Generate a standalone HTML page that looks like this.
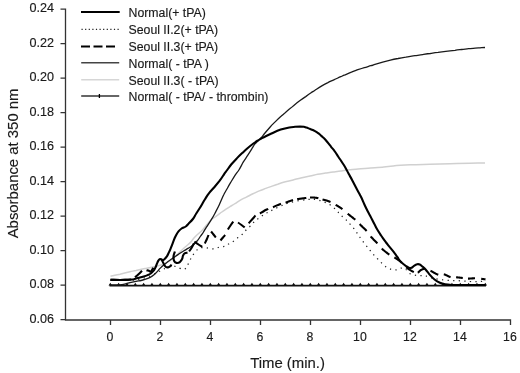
<!DOCTYPE html>
<html><head><meta charset="utf-8">
<style>
html,body{margin:0;padding:0;background:#fff;}
body{width:520px;height:373px;overflow:hidden;}
svg{display:block;will-change:transform;}
text{font-family:"Liberation Sans",sans-serif;fill:#1a1a1a;stroke:#1a1a1a;stroke-width:0.15px;}
</style></head>
<body>
<svg width="520" height="373" viewBox="0 0 520 373">
<rect width="520" height="373" fill="#fff"/>
<!-- axes -->
<g stroke="#333" stroke-width="1.3" fill="none">
<path d="M60.5 9.2H65.5V320H510.5V325"/>
<path d="M60.5 43.7H65.5M60.5 78.2H65.5M60.5 112.7H65.5M60.5 147.2H65.5M60.5 181.7H65.5M60.5 216.2H65.5M60.5 250.7H65.5M60.5 285.2H65.5M60.5 319.7H65.5"/>
<path d="M110.5 320V325M160.5 320V325M210.5 320V325M260.5 320V325M310.5 320V325M360.5 320V325M410.5 320V325M460.5 320V325"/>
</g>
<g font-size="12.6" text-anchor="end">
<text x="54" y="12.2">0.24</text>
<text x="54" y="46.7">0.22</text>
<text x="54" y="81.2">0.20</text>
<text x="54" y="115.7">0.18</text>
<text x="54" y="150.2">0.16</text>
<text x="54" y="184.7">0.14</text>
<text x="54" y="219.2">0.12</text>
<text x="54" y="253.7">0.10</text>
<text x="54" y="288.2">0.08</text>
<text x="54" y="322.7">0.06</text>
</g>
<g font-size="12.3" text-anchor="middle">
<text transform="translate(109.9 340.9) scale(1 1.07)">0</text>
<text transform="translate(159.9 340.9) scale(1 1.07)">2</text>
<text transform="translate(209.9 340.9) scale(1 1.07)">4</text>
<text transform="translate(259.9 340.9) scale(1 1.07)">6</text>
<text transform="translate(309.9 340.9) scale(1 1.07)">8</text>
<text transform="translate(359.9 340.9) scale(1 1.07)">10</text>
<text transform="translate(409.9 340.9) scale(1 1.07)">12</text>
<text transform="translate(459.9 340.9) scale(1 1.07)">14</text>
<text transform="translate(509.9 340.9) scale(1 1.07)">16</text>
</g>
<text x="287.5" y="368" font-size="14.9" text-anchor="middle">Time (min.)</text>
<text transform="translate(17.5 163.4) rotate(-90)" font-size="14.9" text-anchor="middle">Absorbance at 350 nm</text>
<!-- legend -->
<g font-size="12.3">
<text x="128.5" y="16.5">Normal(+ tPA)</text>
<text x="128.5" y="33.8">Seoul II.2(+ tPA)</text>
<text x="128.5" y="51">Seoul II.3(+ tPA)</text>
<text x="128.5" y="67.5">Normal( - tPA )</text>
<text x="128.5" y="84.5">Seoul II.3( - tPA)</text>
<text x="128.5" y="100.5">Normal( - tPA/ - thrombin)</text>
</g>
<g fill="none">
<path d="M81 12.1H119.7" stroke="#000" stroke-width="2"/>
<path d="M81.5 29.4H119.5" stroke="#222" stroke-width="1.2" stroke-dasharray="1.2 2.4"/>
<path d="M81 46.6H115.5" stroke="#000" stroke-width="2" stroke-dasharray="9 3.5"/>
<path d="M81.2 62.8H119.2" stroke="#444" stroke-width="1.6"/>
<path d="M81.2 79.8H119.2" stroke="#d6d6d6" stroke-width="1.6"/>
<path d="M81.2 96H119.2" stroke="#333" stroke-width="1.6"/>
<path d="M99.4 94V98" stroke="#000" stroke-width="1.3"/>
</g>
<!-- curves -->
<g fill="none" stroke-linejoin="round">
<path d="M110.5 276.3C112.1 275.9 116.8 274.9 120.0 274.2C123.2 273.4 127.3 272.4 130.0 271.8C132.7 271.2 133.5 270.9 136.0 270.4C138.5 269.8 141.8 269.1 145.0 268.5C148.2 267.9 151.7 267.3 155.0 266.5C158.3 265.7 162.2 264.7 165.0 263.5C167.8 262.3 169.8 261.1 172.0 259.5C174.2 257.9 176.0 255.9 178.0 254.0C180.0 252.1 181.9 249.9 184.0 248.0C186.1 246.1 188.9 244.0 190.5 242.4C192.1 240.8 192.5 239.7 193.7 238.3C194.9 237.0 196.2 235.7 197.7 234.3C199.2 232.9 201.1 231.4 202.5 229.9C203.9 228.4 205.1 226.8 206.4 225.2C207.7 223.6 209.1 221.9 210.5 220.5C211.9 219.1 213.4 218.2 215.0 217.0C216.6 215.8 218.3 214.5 220.0 213.3C221.7 212.1 223.3 210.9 225.0 209.8C226.7 208.7 228.3 207.6 230.0 206.6C231.7 205.6 233.3 204.6 235.0 203.6C236.7 202.6 238.1 201.4 240.0 200.3C241.9 199.2 244.2 198.2 246.4 197.1C248.6 196.0 250.8 194.8 252.9 193.8C255.1 192.8 257.2 191.8 259.3 190.9C261.4 190.0 264.0 189.1 265.8 188.4C267.6 187.7 268.0 187.6 270.0 186.9C272.0 186.2 275.1 185.0 277.7 184.2C280.3 183.3 282.8 182.5 285.4 181.8C288.0 181.1 290.5 180.5 293.1 179.9C295.7 179.3 298.0 178.6 300.8 178.0C303.6 177.4 307.2 176.7 310.0 176.1C312.8 175.5 315.1 174.8 317.7 174.3C320.3 173.8 322.8 173.5 325.4 173.1C328.0 172.7 330.5 172.2 333.1 171.9C335.7 171.6 338.6 171.3 340.8 171.0C343.0 170.7 343.7 170.6 346.2 170.3C348.7 170.0 352.4 169.5 356.0 169.2C359.6 168.9 363.4 168.7 368.0 168.3C372.6 167.9 379.6 167.4 383.8 167.0C388.0 166.6 388.7 166.3 393.1 165.9C397.5 165.5 404.2 165.1 410.4 164.8C416.5 164.5 423.4 164.4 430.0 164.2C436.6 164.0 443.3 163.9 450.0 163.7C456.7 163.5 464.2 163.3 470.0 163.2C475.8 163.1 482.5 162.9 485.0 162.9" stroke="#d0d0d0" stroke-width="1.5"/>
<path d="M109.5 285.6H486" stroke="#111" stroke-width="1.6"/>
<path d="M108.50 285.6l1.8 -2.8l1.8 2.8zM116.83 285.6l1.8 -2.8l1.8 2.8zM125.17 285.6l1.8 -2.8l1.8 2.8zM133.50 285.6l1.8 -2.8l1.8 2.8zM141.83 285.6l1.8 -2.8l1.8 2.8zM150.16 285.6l1.8 -2.8l1.8 2.8zM158.50 285.6l1.8 -2.8l1.8 2.8zM166.83 285.6l1.8 -2.8l1.8 2.8zM175.16 285.6l1.8 -2.8l1.8 2.8zM183.50 285.6l1.8 -2.8l1.8 2.8zM191.83 285.6l1.8 -2.8l1.8 2.8zM200.16 285.6l1.8 -2.8l1.8 2.8zM208.50 285.6l1.8 -2.8l1.8 2.8zM216.83 285.6l1.8 -2.8l1.8 2.8zM225.16 285.6l1.8 -2.8l1.8 2.8zM233.50 285.6l1.8 -2.8l1.8 2.8zM241.83 285.6l1.8 -2.8l1.8 2.8zM250.16 285.6l1.8 -2.8l1.8 2.8zM258.49 285.6l1.8 -2.8l1.8 2.8zM266.83 285.6l1.8 -2.8l1.8 2.8zM275.16 285.6l1.8 -2.8l1.8 2.8zM283.49 285.6l1.8 -2.8l1.8 2.8zM291.83 285.6l1.8 -2.8l1.8 2.8zM300.16 285.6l1.8 -2.8l1.8 2.8zM308.49 285.6l1.8 -2.8l1.8 2.8zM316.83 285.6l1.8 -2.8l1.8 2.8zM325.16 285.6l1.8 -2.8l1.8 2.8zM333.49 285.6l1.8 -2.8l1.8 2.8zM341.82 285.6l1.8 -2.8l1.8 2.8zM350.16 285.6l1.8 -2.8l1.8 2.8zM358.49 285.6l1.8 -2.8l1.8 2.8zM366.82 285.6l1.8 -2.8l1.8 2.8zM375.16 285.6l1.8 -2.8l1.8 2.8zM383.49 285.6l1.8 -2.8l1.8 2.8zM391.82 285.6l1.8 -2.8l1.8 2.8zM400.16 285.6l1.8 -2.8l1.8 2.8zM408.49 285.6l1.8 -2.8l1.8 2.8zM416.82 285.6l1.8 -2.8l1.8 2.8zM425.15 285.6l1.8 -2.8l1.8 2.8zM433.49 285.6l1.8 -2.8l1.8 2.8zM441.82 285.6l1.8 -2.8l1.8 2.8zM450.15 285.6l1.8 -2.8l1.8 2.8zM458.49 285.6l1.8 -2.8l1.8 2.8zM466.82 285.6l1.8 -2.8l1.8 2.8zM475.15 285.6l1.8 -2.8l1.8 2.8zM483.49 285.6l1.8 -2.8l1.8 2.8z" fill="#111" stroke="none"/>
<path d="M110.5 285.0C112.4 284.9 118.8 285.0 122.0 284.6C125.2 284.2 127.7 283.2 130.0 282.6C132.3 282.1 134.2 281.7 136.0 281.3C137.8 280.9 139.5 280.9 141.1 280.5C142.7 280.1 144.2 279.7 145.7 279.2C147.2 278.7 148.8 278.0 150.2 277.3C151.6 276.6 152.8 275.8 154.0 274.8C155.2 273.9 156.2 272.7 157.2 271.6C158.2 270.5 158.9 269.5 160.0 268.4C161.1 267.3 162.7 265.9 164.0 264.8C165.3 263.7 166.7 262.5 168.0 261.5C169.3 260.5 170.7 259.6 172.0 258.7C173.3 257.8 174.7 256.9 176.0 256.0C177.3 255.1 178.7 254.2 180.0 253.3C181.3 252.4 182.7 251.6 184.0 250.8C185.3 250.0 186.8 249.2 188.0 248.4C189.2 247.6 190.4 247.0 191.5 246.2C192.6 245.4 193.5 244.8 194.5 243.8C195.5 242.9 196.5 241.7 197.5 240.5C198.5 239.3 199.4 237.8 200.3 236.5C201.2 235.2 202.2 234.1 203.2 232.5C204.2 230.9 205.2 229.2 206.4 227.2C207.7 225.2 209.3 223.0 210.7 220.7C212.1 218.4 213.6 215.9 215.0 213.2C216.4 210.5 217.9 207.7 219.3 204.7C220.7 201.7 222.3 197.6 223.6 195.0C224.8 192.4 225.7 191.3 226.8 189.3C227.9 187.3 229.0 185.2 230.4 182.9C231.8 180.6 233.6 177.6 235.0 175.4C236.4 173.2 237.5 172.2 238.9 170.0C240.3 167.8 241.8 164.6 243.2 162.2C244.6 159.8 246.1 157.9 247.5 155.7C248.9 153.5 250.6 150.8 251.8 148.8C253.1 146.8 253.9 145.2 255.0 143.9C256.1 142.6 257.1 141.8 258.2 140.7C259.3 139.6 260.4 138.6 261.5 137.3C262.6 136.0 263.5 134.8 265.0 133.0C266.5 131.2 268.8 128.5 270.4 126.7C272.0 124.9 273.1 123.9 274.9 122.1C276.7 120.3 279.6 117.5 281.3 116.0C283.0 114.4 283.4 114.1 284.9 112.9C286.3 111.7 288.3 110.0 290.0 108.6C291.7 107.1 293.6 105.6 295.3 104.2C297.0 102.8 298.7 101.6 300.4 100.3C302.1 99.0 303.9 97.8 305.7 96.6C307.5 95.3 309.6 93.8 311.1 92.8C312.7 91.7 313.3 91.4 315.0 90.2C316.7 89.1 319.2 87.4 321.4 86.1C323.5 84.8 325.8 83.6 327.9 82.6C330.0 81.5 332.1 80.7 334.3 79.7C336.5 78.7 339.0 77.5 340.8 76.7C342.6 75.9 343.2 75.6 345.0 74.9C346.8 74.1 349.2 73.0 351.4 72.2C353.5 71.3 355.8 70.5 357.9 69.7C360.0 69.0 362.1 68.3 364.3 67.6C366.5 67.0 369.0 66.2 370.8 65.7C372.6 65.2 373.0 65.0 375.0 64.4C377.0 63.9 380.1 63.0 382.7 62.2C385.3 61.5 387.8 60.8 390.4 60.1C393.0 59.5 395.5 59.0 398.1 58.5C400.7 57.9 403.0 57.5 405.8 57.1C408.6 56.6 412.2 56.2 415.0 55.7C417.8 55.3 420.1 55.0 422.7 54.6C425.3 54.2 427.8 53.8 430.4 53.5C433.0 53.1 435.5 52.7 438.1 52.4C440.7 52.0 443.0 51.7 445.8 51.4C448.6 51.1 452.4 50.7 455.0 50.4C457.6 50.0 459.4 49.8 461.7 49.5C463.9 49.2 466.2 49.0 468.5 48.7C470.8 48.5 473.3 48.3 475.2 48.1C477.1 48.0 478.4 47.9 480.0 47.8C481.6 47.7 484.2 47.5 485.0 47.5" stroke="#1a1a1a" stroke-width="1.3"/>
<path d="M110.5 280.0C113.8 280.0 125.1 280.2 130.0 280.0C134.9 279.8 136.7 279.7 140.0 279.0C143.3 278.3 147.0 277.2 150.0 276.0C153.0 274.8 155.5 273.2 158.0 272.0C160.5 270.8 162.7 269.5 165.0 268.5C167.3 267.5 170.0 266.2 172.0 266.0C174.0 265.8 175.3 266.5 177.2 267.1C179.0 267.7 181.5 269.5 183.1 269.5C184.7 269.5 185.9 268.2 186.8 267.2C187.7 266.2 187.7 264.9 188.4 263.4C189.1 261.9 190.2 259.7 191.1 258.1C192.0 256.5 192.7 255.2 193.8 253.8C194.9 252.4 196.3 250.5 197.5 249.5C198.7 248.5 199.7 248.1 201.0 247.8C202.3 247.5 203.8 247.5 205.1 247.6C206.4 247.7 207.5 248.1 209.1 248.3C210.7 248.5 212.7 249.1 214.5 248.9C216.3 248.7 218.1 247.4 219.9 246.9C221.7 246.4 223.6 246.8 225.2 246.2C226.8 245.6 227.8 244.4 229.2 243.6C230.6 242.8 231.9 242.2 233.4 241.2C234.9 240.2 236.4 238.8 238.0 237.6C239.6 236.4 241.2 235.3 242.7 233.9C244.2 232.5 245.4 230.6 246.8 229.2C248.2 227.8 250.1 226.5 251.4 225.2C252.7 223.8 253.5 222.3 254.8 221.1C256.2 219.9 257.9 218.9 259.5 217.8C261.1 216.7 262.6 215.4 264.2 214.4C265.8 213.4 267.2 212.7 268.9 211.8C270.6 210.9 272.0 210.2 274.2 209.1C276.4 208.0 279.4 206.6 282.0 205.5C284.6 204.4 287.0 203.3 290.0 202.5C293.0 201.7 297.0 201.0 300.0 200.5C303.0 200.0 305.8 199.7 308.0 199.5C310.2 199.3 311.2 199.1 313.0 199.2C314.8 199.3 316.9 199.7 318.8 200.2C320.7 200.7 322.7 201.3 324.6 202.1C326.5 202.9 328.4 203.6 330.4 205.0C332.4 206.4 334.7 208.7 336.4 210.3C338.1 211.9 338.9 213.4 340.4 214.8C341.9 216.2 343.8 217.6 345.3 219.0C346.8 220.4 348.0 221.9 349.3 223.3C350.6 224.8 352.1 226.2 353.3 227.7C354.5 229.2 355.4 230.6 356.5 232.2C357.6 233.8 358.6 235.4 359.7 237.0C360.8 238.6 361.8 239.9 363.0 241.5C364.2 243.1 365.8 245.1 367.0 246.6C368.2 248.1 369.0 249.0 370.2 250.5C371.4 252.0 373.0 254.0 374.3 255.5C375.6 257.0 376.7 257.9 378.0 259.3C379.3 260.7 380.8 262.2 382.3 263.6C383.8 265.0 385.6 266.7 387.2 267.7C388.8 268.7 390.4 269.1 392.0 269.5C393.6 269.9 395.3 270.0 396.8 269.8C398.3 269.6 399.7 268.2 401.1 268.1C402.5 268.0 404.1 268.1 405.4 269.0C406.7 269.9 407.6 272.2 409.1 273.2C410.6 274.2 412.7 274.7 414.5 275.1C416.3 275.5 418.2 275.4 420.0 275.5C421.8 275.6 423.2 275.4 425.2 275.8C427.2 276.2 429.5 277.4 432.0 278.0C434.5 278.6 437.0 279.1 440.0 279.5C443.0 279.9 446.7 280.3 450.0 280.5C453.3 280.7 456.7 280.6 460.0 280.8C463.3 281.0 467.0 281.4 470.0 281.5C473.0 281.6 475.4 281.6 478.0 281.5C480.6 281.4 484.2 281.1 485.5 281.0" stroke="#222" stroke-width="1.25" stroke-dasharray="1.25 4.3"/>
<path d="M285.60 202.70L285.71 202.66L285.82 202.63L285.92 202.59L286.02 202.56L286.11 202.53L286.20 202.50L286.28 202.47L286.36 202.43L286.43 202.40L286.50 202.37L286.57 202.34L286.64 202.31L286.71 202.28L286.77 202.25L286.84 202.22L286.90 202.19L286.97 202.16L287.04 202.13L287.10 202.10L287.17 202.07L287.25 202.04L287.32 202.00L287.40 201.97L287.49 201.94L287.57 201.90L287.67 201.86L287.77 201.82L287.87 201.78L287.98 201.74L288.10 201.70L288.22 201.66L288.35 201.61L288.49 201.56L288.63 201.51L288.78 201.46L288.92 201.41L289.08 201.35L289.23 201.30L289.39 201.24L289.56 201.19L289.72 201.13L289.89 201.07L290.06 201.01L290.23 200.95L290.40 200.89L290.57 200.84L290.75 200.78L290.92 200.72L291.09 200.66L291.27 200.60L291.44 200.55L291.61 200.49L291.78 200.44L291.95 200.38L292.11 200.33L292.28 200.28L292.44 200.23L292.60 200.19L292.75 200.14L292.90 200.10L293.05 200.06M297.18 199.17L297.36 199.14L297.55 199.11L297.75 199.08L297.94 199.05L298.15 199.02L298.35 198.99L298.56 198.96L298.77 198.93L298.99 198.90L299.21 198.87L299.43 198.84L299.65 198.80L299.87 198.77L300.10 198.74L300.33 198.71L300.56 198.68L300.78 198.65L301.01 198.62L301.24 198.59L301.47 198.56L301.70 198.53L301.93 198.50L302.16 198.47L302.39 198.44L302.61 198.41L302.84 198.39L303.06 198.36L303.28 198.33L303.50 198.30L303.72 198.27L303.93 198.24L304.15 198.21L304.36 198.18L304.58 198.15L304.79 198.11L305.01 198.08L305.22 198.05L305.44 198.01L305.65 197.98L305.87 197.95L306.08 197.92L306.30 197.88M310.00 197.50L310.22 197.49L310.45 197.49L310.68 197.49L310.91 197.48L311.14 197.48L311.37 197.48L311.61 197.49L311.84 197.49L312.08 197.49L312.31 197.50L312.55 197.51L312.78 197.52L313.02 197.53L313.26 197.54L313.49 197.55L313.73 197.56L313.97 197.58L314.20 197.60L314.43 197.61L314.67 197.63L314.90 197.65L315.13 197.68L315.36 197.70L315.58 197.72L315.81 197.75L316.03 197.78L316.25 197.81L316.47 197.84L316.69 197.87L316.90 197.90L317.11 197.93L317.32 197.97L317.52 198.01L317.73 198.05L317.93 198.10L318.13 198.14L318.33 198.19M322.51 199.44L322.70 199.50L322.89 199.55L323.09 199.61L323.28 199.66L323.47 199.71L323.67 199.76L323.86 199.82L324.06 199.87L324.25 199.92L324.44 199.97L324.64 200.02L324.83 200.07L325.02 200.12L325.22 200.17L325.41 200.22L325.61 200.27L325.80 200.33L325.99 200.38L326.19 200.44L326.38 200.49L326.57 200.55L326.77 200.61L326.96 200.67L327.15 200.73L327.35 200.79L327.54 200.85L327.73 200.92L327.92 200.98L328.12 201.05L328.31 201.13L328.50 201.20L328.69 201.28L328.88 201.35L329.06 201.43L329.25 201.50L329.43 201.58L329.61 201.66L329.79 201.74L329.97 201.82L330.15 201.90L330.33 201.98L330.51 202.06M335.66 204.83L335.92 204.98L336.18 205.13L336.45 205.29L336.72 205.45L336.99 205.61L337.27 205.77L337.55 205.94L337.82 206.10L338.10 206.27L338.38 206.44L338.65 206.61L338.93 206.78L339.21 206.95L339.48 207.12L339.75 207.29L340.02 207.46L340.28 207.63L340.54 207.80L340.80 207.97L341.05 208.14L341.30 208.31L341.54 208.47L341.77 208.64L342.00 208.80L342.22 208.96L342.44 209.12M347.70 213.70L347.93 213.89L348.17 214.09L348.42 214.29L348.68 214.50L348.95 214.71L349.22 214.92L349.49 215.14L349.77 215.36L350.06 215.59L350.34 215.81L350.63 216.04L350.93 216.27L351.22 216.50L351.51 216.73L351.81 216.96L352.10 217.19L352.39 217.41L352.68 217.64L352.96 217.87L353.24 218.09L353.52 218.31L353.79 218.53L354.06 218.74L354.32 218.95L354.57 219.15L354.82 219.36L355.05 219.55L355.28 219.74M359.70 224.10L359.89 224.29L360.10 224.50L360.31 224.71L360.54 224.93L360.77 225.16L361.01 225.39L361.26 225.63L361.52 225.88L361.78 226.13L362.04 226.39L362.31 226.65L362.58 226.91L362.85 227.18L363.13 227.44L363.40 227.71L363.67 227.98L363.95 228.25L364.22 228.52L364.48 228.78L364.75 229.04L365.01 229.30L365.26 229.56L365.51 229.81L365.75 230.06L365.98 230.30L366.21 230.54L366.42 230.76L366.63 230.98M370.57 236.42L370.77 236.64L370.98 236.86L371.20 237.10L371.43 237.34L371.66 237.58L371.91 237.83L372.15 238.08L372.41 238.34L372.67 238.60L372.93 238.86L373.19 239.13L373.46 239.40L373.72 239.66L373.99 239.93L374.26 240.20L374.53 240.46L374.80 240.73L375.06 240.99L375.32 241.25L375.58 241.51L375.83 241.77L376.08 242.02L376.32 242.26L376.55 242.50L376.78 242.74L376.99 242.96L377.20 243.19L377.40 243.40M381.80 248.60L382.01 248.80L382.24 249.00L382.47 249.21L382.71 249.42L382.96 249.64L383.22 249.87L383.49 250.09L383.76 250.32L384.04 250.56L384.33 250.79L384.61 251.03L384.90 251.27L385.20 251.50L385.49 251.74L385.79 251.98L386.08 252.21L386.38 252.44L386.67 252.67L386.96 252.90L387.25 253.12L387.54 253.34L387.82 253.55L388.09 253.76L388.36 253.96L388.62 254.15L388.88 254.34L389.12 254.52L389.36 254.69M394.40 257.40L394.59 257.52L394.79 257.65L394.99 257.77L395.20 257.91L395.41 258.04L395.63 258.18L395.85 258.33L396.07 258.47L396.30 258.62L396.53 258.77L396.76 258.93L397.00 259.09L397.23 259.24L397.47 259.41L397.71 259.57L397.94 259.73L398.18 259.90L398.42 260.07L398.66 260.23L398.89 260.40L399.13 260.57L399.36 260.74L399.59 260.91L399.82 261.08L400.04 261.26L400.26 261.43L400.48 261.60L400.69 261.76L400.90 261.93L401.10 262.10L401.30 262.27L401.49 262.44L401.68 262.61M406.19 267.23L406.40 267.40L406.62 267.57L406.84 267.74L407.07 267.91L407.31 268.09L407.55 268.27L407.80 268.45L408.05 268.63L408.31 268.81L408.57 268.99L408.84 269.17L409.10 269.35L409.37 269.53L409.64 269.71L409.91 269.88L410.18 270.06L410.45 270.23L410.72 270.39L410.98 270.56L411.25 270.72L411.51 270.87L411.76 271.02L412.02 271.17L412.26 271.31L412.50 271.44L412.74 271.57L412.97 271.69L413.19 271.81L413.40 271.91L413.61 272.01L413.80 272.10M417.68 272.53L417.80 272.50L417.92 272.46L418.03 272.41L418.15 272.36L418.26 272.30L418.37 272.24L418.48 272.16L418.58 272.09L418.68 272.01L418.79 271.92L418.89 271.83L418.99 271.74L419.09 271.65L419.19 271.55L419.29 271.45L419.39 271.35L419.49 271.25L419.59 271.15L419.69 271.05L419.79 270.94L419.89 270.84L419.99 270.75L420.10 270.65L420.20 270.55L420.31 270.46L420.42 270.38L420.53 270.29L420.64 270.21L420.76 270.13L420.88 270.06L421.00 270.00L421.12 269.94L421.25 269.88L421.37 269.81L421.50 269.75L421.63 269.69L421.76 269.63L421.89 269.56L422.02 269.50L422.15 269.44L422.29 269.39L422.42 269.33L422.56 269.27L422.69 269.22L422.83 269.17L422.97 269.12L423.11 269.07L423.25 269.03L423.39 268.99L423.54 268.95L423.68 268.91L423.83 268.88L423.98 268.86L424.12 268.83L424.27 268.81L424.42 268.80L424.58 268.79L424.73 268.78L424.89 268.78M430.50 270.80L430.73 270.90L430.96 271.02L431.20 271.14L431.45 271.27L431.71 271.40L431.97 271.54L432.24 271.69L432.51 271.84L432.79 271.99L433.07 272.15L433.35 272.31L433.64 272.47L433.92 272.63L434.21 272.80L434.50 272.96L434.79 273.12L435.08 273.27L435.36 273.43L435.65 273.58L435.93 273.73L436.21 273.87L436.49 274.00L436.76 274.13L437.03 274.26L437.29 274.37L437.55 274.48L437.80 274.57L438.04 274.66L438.27 274.74M443.80 274.30L444.00 274.34L444.21 274.40L444.42 274.46L444.64 274.53L444.86 274.61L445.08 274.69L445.31 274.78L445.53 274.88L445.76 274.98L446.00 275.09L446.23 275.19L446.46 275.31L446.70 275.42L446.94 275.54L447.18 275.66L447.41 275.77L447.65 275.89L447.89 276.01L448.12 276.12L448.36 276.24L448.59 276.35L448.83 276.45L449.06 276.56L449.29 276.65L449.51 276.75L449.74 276.83L449.96 276.91L450.18 276.98L450.39 277.05L450.60 277.10M456.10 277.29L456.30 277.30L456.51 277.32L456.72 277.33L456.94 277.35L457.16 277.37L457.38 277.39L457.60 277.41L457.83 277.43L458.06 277.45L458.29 277.48L458.52 277.50L458.76 277.52L458.99 277.55L459.22 277.57L459.46 277.60L459.69 277.62L459.93 277.65L460.16 277.68L460.39 277.70L460.63 277.73L460.86 277.76L461.08 277.78L461.31 277.81L461.53 277.83L461.75 277.86L461.97 277.88L462.18 277.91L462.39 277.93L462.60 277.96L462.80 277.98M468.00 278.60L468.20 278.60L468.41 278.60L468.62 278.60L468.84 278.60L469.06 278.59L469.28 278.58L469.51 278.58L469.74 278.56L469.98 278.55L470.21 278.54L470.45 278.52L470.69 278.51L470.94 278.49L471.18 278.47L471.43 278.46L471.67 278.44L471.92 278.42L472.16 278.41L472.41 278.39L472.65 278.37L472.90 278.36L473.14 278.35L473.38 278.33L473.62 278.32L473.86 278.31L474.09 278.31L474.32 278.30L474.55 278.30L474.78 278.30L475.00 278.30M481.20 278.80L481.38 278.82L481.55 278.84L481.73 278.86L481.90 278.88L482.08 278.90L482.25 278.92L482.42 278.95L482.60 278.97L482.77 278.99L482.93 279.01L483.10 279.04L483.26 279.06L483.42 279.08L483.58 279.11L483.74 279.13L483.89 279.15L484.04 279.18L484.18 279.20L484.32 279.22L484.46 279.24L484.59 279.26L484.71 279.28L484.83 279.30L484.95 279.32L485.05 279.33L485.16 279.35L485.25 279.36L485.34 279.38L485.42 279.39L485.50 279.40" stroke="#000" stroke-width="2.1"/>
<path d="M110.5 279.9C112.9 279.9 121.6 280.0 125.0 279.9C128.4 279.8 130.0 279.6 131.0 279.5M135.0 277.3C135.6 276.8 137.3 275.4 138.5 274.3C139.7 273.2 141.4 271.4 142.0 270.8M146.5 270.2C146.8 270.3 147.8 270.4 148.5 270.6C149.2 270.8 150.0 272.1 150.8 271.6C151.6 271.1 153.0 268.4 153.4 267.7M161.3 259.3C161.6 259.8 162.4 261.1 162.9 262.1C163.4 263.1 164.0 264.5 164.5 265.3C165.0 266.1 165.4 266.8 166.1 267.1C166.8 267.4 167.8 267.4 168.5 267.2C169.2 267.0 170.0 266.6 170.5 266.1C171.0 265.7 171.2 264.8 171.3 264.5M174.9 251.6C174.7 252.4 173.6 254.8 173.5 256.4C173.4 258.0 173.8 260.1 174.3 261.2C174.8 262.3 175.6 262.8 176.5 262.9C177.4 263.0 178.9 262.8 179.8 262.1C180.8 261.4 181.7 259.9 182.2 258.8C182.7 257.7 182.6 256.5 183.0 255.6C183.4 254.7 183.8 253.8 184.6 253.3C185.3 252.8 187.0 252.7 187.5 252.6M189.1 251.3C189.5 250.8 190.7 249.3 191.5 248.0C192.3 246.7 193.6 244.1 194.0 243.3M194.4 241.6C195.1 242.1 197.2 243.6 198.5 244.5C199.8 245.4 201.6 246.4 202.2 246.8M204.8 243.5C205.1 242.8 206.1 240.9 206.7 239.5C207.3 238.1 208.2 235.8 208.5 235.0M211.1 231.5C211.5 232.0 212.7 233.5 213.5 234.5C214.3 235.5 215.4 237.0 215.8 237.5M220.5 240.5C220.9 240.0 222.2 238.4 223.0 237.5C223.8 236.6 224.8 235.3 225.2 234.9M227.9 229.5C228.3 228.8 229.6 226.8 230.5 225.5C231.4 224.2 232.8 222.2 233.3 221.6M238.0 222.5C238.6 222.9 240.4 224.2 241.5 225.0C242.6 225.8 244.2 227.0 244.7 227.4M248.6 223.2C249.2 222.6 250.8 220.8 252.0 219.5C253.2 218.2 254.9 216.2 255.5 215.6M259.9 213.5C260.6 213.1 262.6 211.8 264.0 211.0C265.4 210.2 267.5 209.2 268.2 208.8M273.0 207.2C273.7 206.9 275.7 206.0 277.0 205.4C278.3 204.8 280.3 204.1 281.0 203.8" stroke="#000" stroke-width="2.1"/>
<path d="M110.5 279.9C112.9 279.9 121.4 280.0 125.0 279.9C128.6 279.8 130.2 279.7 132.0 279.5C133.8 279.3 134.7 278.8 136.0 278.5C137.3 278.2 138.6 277.8 139.9 277.5C141.2 277.2 142.4 276.9 143.7 276.5C145.0 276.1 146.4 275.6 147.6 275.1C148.8 274.6 149.8 274.2 150.8 273.5C151.8 272.8 152.7 271.8 153.4 270.9C154.2 269.9 154.7 268.9 155.3 267.8C155.9 266.7 156.3 265.1 156.8 264.0C157.3 262.9 157.7 261.7 158.2 260.9C158.7 260.1 159.2 259.4 159.7 259.1C160.2 258.8 160.8 259.1 161.3 259.3C161.8 259.5 162.3 260.4 162.9 260.3C163.5 260.2 164.2 259.5 164.9 258.8C165.6 258.1 166.3 257.3 166.9 256.4C167.5 255.5 168.0 254.3 168.5 253.2C169.0 252.1 169.6 251.0 170.1 249.8C170.6 248.6 171.1 247.5 171.6 246.2C172.1 244.9 172.6 243.6 173.1 242.2C173.6 240.8 174.2 239.2 174.7 238.0C175.2 236.8 175.7 235.9 176.3 234.8C176.9 233.7 177.6 232.4 178.5 231.3C179.4 230.2 180.4 229.3 181.6 228.5C182.8 227.7 184.6 227.3 185.8 226.5C187.0 225.7 187.6 224.7 188.8 223.4C190.0 222.2 191.7 220.6 192.9 219.0C194.1 217.4 195.0 215.5 196.1 213.8C197.2 212.1 198.2 210.5 199.3 208.8C200.4 207.1 201.6 205.0 202.5 203.4C203.4 201.8 203.9 200.9 205.0 199.2C206.1 197.5 207.3 195.3 208.9 193.3C210.5 191.3 212.5 189.3 214.3 187.2C216.1 185.1 218.1 182.8 219.7 180.7C221.3 178.5 222.8 176.1 224.0 174.3C225.2 172.5 226.0 171.7 227.2 170.0C228.4 168.3 229.8 166.2 231.4 164.3C233.0 162.4 235.0 160.3 236.8 158.4C238.6 156.5 240.4 154.8 242.2 153.1C244.0 151.4 245.6 149.8 247.5 148.2C249.4 146.6 251.7 144.8 253.4 143.5C255.1 142.2 256.2 141.5 257.6 140.6C259.0 139.7 260.5 139.0 261.9 138.2C263.3 137.4 264.5 136.8 266.2 136.0C267.9 135.2 269.6 134.4 272.0 133.3C274.4 132.2 277.8 130.6 280.7 129.6C283.6 128.6 286.9 128.0 289.3 127.5C291.7 127.0 293.3 127.0 295.1 126.8C296.9 126.6 298.5 126.6 300.0 126.6C301.5 126.6 302.8 126.6 303.9 126.8C305.0 127.0 305.4 127.3 306.4 127.6C307.4 127.9 308.6 128.4 309.7 128.8C310.8 129.2 311.7 129.4 312.9 130.0C314.1 130.6 315.6 131.4 316.7 132.1C317.8 132.8 318.4 133.3 319.3 134.0C320.2 134.7 321.0 135.6 321.9 136.4C322.8 137.2 323.6 137.8 324.5 138.7C325.4 139.6 326.2 140.7 327.3 142.0C328.4 143.3 329.9 145.3 331.1 146.8C332.3 148.3 333.5 149.5 334.6 151.1C335.8 152.7 336.9 154.5 338.0 156.2C339.1 157.9 340.2 159.5 341.4 161.3C342.5 163.1 343.6 164.6 344.9 166.8C346.2 169.0 347.8 172.2 349.1 174.6C350.4 176.9 351.5 178.8 352.6 180.9C353.8 183.1 354.9 185.3 356.0 187.5C357.1 189.7 358.5 192.1 359.4 193.8C360.3 195.6 360.8 196.3 361.6 198.0C362.4 199.7 363.3 202.0 364.3 204.2C365.3 206.4 366.6 209.0 367.7 211.2C368.8 213.4 370.0 215.4 371.1 217.6C372.2 219.8 373.4 222.3 374.5 224.3C375.6 226.3 376.3 228.0 377.4 229.8C378.5 231.6 379.8 233.6 380.9 235.3C382.0 237.0 383.2 238.6 384.3 240.2C385.4 241.8 386.6 243.1 387.7 244.6C388.8 246.1 390.0 247.5 391.2 248.9C392.4 250.3 393.6 251.8 394.6 253.2C395.7 254.6 396.7 256.1 397.5 257.2C398.3 258.3 398.4 258.8 399.2 259.8C400.0 260.8 401.3 262.3 402.4 263.3C403.5 264.3 404.6 265.1 405.7 265.8C406.8 266.5 407.9 267.4 408.9 267.7C409.9 268.0 410.6 268.1 411.5 267.8C412.4 267.5 413.1 266.4 414.0 265.8C414.9 265.2 416.2 264.4 417.2 264.2C418.2 264.0 418.9 264.1 419.8 264.5C420.7 264.9 421.4 265.6 422.4 266.5C423.4 267.4 424.9 268.7 426.0 270.0C427.1 271.3 427.8 272.5 429.2 274.1C430.6 275.7 432.7 278.1 434.5 279.5C436.3 280.9 438.1 282.0 439.9 282.8C441.6 283.6 443.0 284.0 445.0 284.4C447.0 284.8 449.5 284.9 452.0 285.0C454.5 285.1 457.0 285.0 460.0 285.0C463.0 285.0 465.8 285.0 470.0 285.0C474.2 285.0 482.9 285.0 485.5 285.0" stroke="#000" stroke-width="2.1"/>
</g>
</svg>
</body></html>
